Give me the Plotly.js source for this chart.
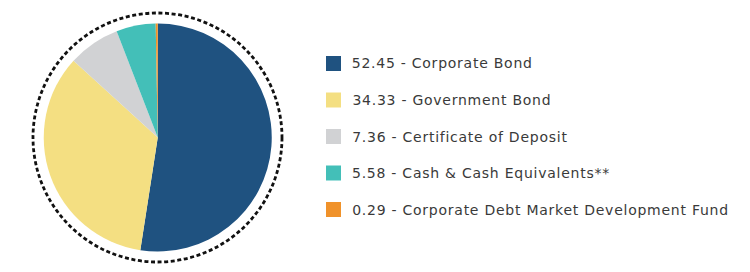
<!DOCTYPE html>
<html>
<head>
<meta charset="utf-8">
<script src="https://cdn.plot.ly/plotly-3.0.1.min.js"></script>
<style>html,body{margin:0;padding:0;background:#fff;}#chart{width:750px;height:272px;}
#chart .annotation-text{letter-spacing:0.75px;}</style>
</head>
<body>
<div id="chart"></div>
<script>
var categories = ["Corporate Bond", "Government Bond", "Certificate of Deposit", "Cash & Cash Equivalents**", "Corporate Debt Market Development Fund"];
var values = [52.45, 34.33, 7.36, 5.58, 0.29];
var valueLabels = ["52.45", "34.33", "7.36", "5.58", "0.29"];
var colors = ["#1f5280", "#f4df82", "#d1d2d4", "#43bfb8", "#f0922a"];

var W = 750, H = 272;
var LS = 0.75;
function px(x){ return x / W; }
function py(y){ return 1 - y / H; }

var trace = {
  type: "pie",
  labels: categories,
  values: values,
  sort: false,
  direction: "clockwise",
  rotation: 0,
  textinfo: "none",
  hoverinfo: "label+value",
  marker: { colors: colors, line: { width: 0 } },
  domain: { x: [px(43), px(272.5)], y: [py(251.5), py(23.5)] },
  showlegend: false
};

var shapes = [{
  type: "circle", xref: "paper", yref: "paper",
  x0: px(33), x1: px(282), y0: py(262), y1: py(13),
  line: { color: "#111", width: 2.8, dash: "4px,2.6px" }
}];
var annotations = [];
var rowY = [63.5, 100, 136.5, 173, 209.5];
for (var i = 0; i < categories.length; i++) {
  shapes.push({
    type: "rect", xref: "paper", yref: "paper",
    x0: px(326), x1: px(341), y0: py(rowY[i] + 7.5), y1: py(rowY[i] - 7.5),
    fillcolor: colors[i], line: { width: 0 }
  });
  var txt = valueLabels[i] + " - " + categories[i];
  annotations.push({
    xref: "paper", yref: "paper", x: px(350), y: py(rowY[i]),
    xanchor: "left", yanchor: "middle", showarrow: false,
    xshift: txt.length * LS / 2,
    text: txt.replace(/&/g, "&amp;"),
    font: { family: "DejaVu Sans, sans-serif", size: 14, color: "#3a3a3a" }
  });
}

var layout = {
  width: W, height: H,
  margin: { l: 0, r: 0, t: 0, b: 0 },
  paper_bgcolor: "#fff",
  shapes: shapes,
  annotations: annotations,
  showlegend: false
};
Plotly.newPlot("chart", [trace], layout, { displayModeBar: false, staticPlot: true });
</script>
</body>
</html>
